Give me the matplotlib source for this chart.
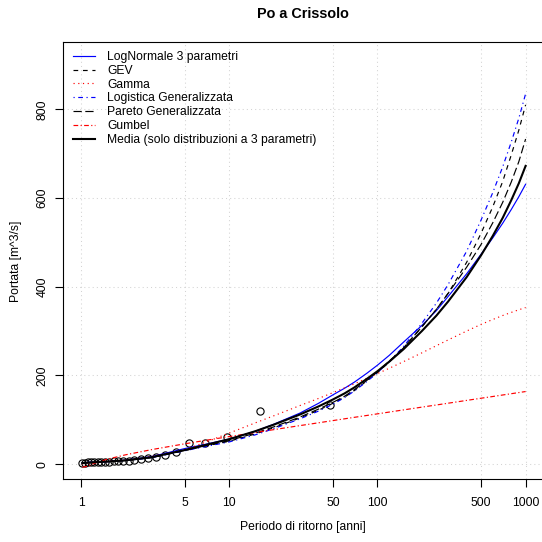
import numpy as np
import matplotlib
matplotlib.use("Agg")
import matplotlib.pyplot as plt

plt.rcParams['font.family'] = ['Liberation Sans', 'DejaVu Sans']

# Dati osservati (posizioni di plotting)
T_oss = [48, 16, 9.6, 6.86, 5.33, 4.36, 3.69, 3.2, 2.82, 2.53, 2.29, 2.09,
         1.92, 1.78, 1.66, 1.55, 1.45, 1.37, 1.30, 1.23, 1.17, 1.12, 1.07, 1.02]
Q_oss = [133, 120, 62, 46.5, 46.5, 27, 20.5, 16, 13, 11, 9.2, 7.7,
         7, 6.5, 6, 5.6, 5.3, 5, 4.7, 4.4, 4.1, 3.8, 3.5, 3.2]

# Tempi di ritorno delle curve
T = [1.02, 1.1, 1.25, 1.5, 2, 3, 5, 7, 10, 15, 20, 30, 40, 50, 60, 70, 85, 100,
     120, 150, 200, 250, 300, 400, 500, 600, 700, 800, 900, 1000]

lognormale = [2.5, 3.5, 4.3, 5.5, 9, 17, 35, 45, 56.5, 74, 90, 115, 137, 156, 171, 185, 205, 223,
              245, 275, 313, 346, 378, 429, 473, 510, 543, 574, 603, 631]
gev = [2.5, 3.5, 4.5, 5.5, 8, 14.5, 30.5, 41, 51.5, 68, 82, 104, 121.5, 137, 151, 166, 188, 206,
       230, 262, 310, 349, 385, 455, 520, 580, 637, 697, 753, 810]
gamma = [0.5, 2, 4, 6, 9, 17, 32, 50, 70, 93, 109, 132, 148, 161, 172, 181, 193.5, 204,
         216, 231, 251, 267, 280, 300, 315, 326, 335, 342, 348, 353]
logistica = [3, 3.8, 4.6, 5.6, 8, 14.5, 30, 40, 50, 66, 80, 102, 119.5, 135, 150, 165, 186.5, 206,
             231, 265, 318, 363, 405, 480, 550, 612, 670, 726, 780, 835]
pareto = [2.7, 3.5, 4.5, 5.5, 8.5, 15, 31, 42, 53, 70, 84, 106, 124, 139, 153, 168, 189, 208,
          232, 262, 310, 349, 385, 444, 495, 544, 590, 636, 682, 733]
gumbel = [-7, -5, 2.6, 11, 21, 32.7, 45.7, 53.8, 62.1, 71.3, 77.7, 86.8, 93.1, 98.1, 102.1, 105.5, 109.7, 113.3,
          117.3, 122.2, 128.5, 133.3, 137.3, 143.6, 148.5, 152.4, 155.8, 158.7, 161.3, 163.6]

# Media delle distribuzioni a 3 parametri
media = np.mean([lognormale, gev, gamma, logistica, pareto], axis=0)

x_tick = [1, 5, 10, 50, 100, 500, 1000]
y_tick = [0, 200, 400, 600, 800]

fig = plt.figure(figsize=(5.42, 5.42), dpi=100)
ax = fig.add_axes([63.3 / 542, 63 / 542, 480.1 / 542, 437 / 542])
ax.set_xscale('log')
ax.set_xlim(10 ** -0.12, 10 ** 3.12)
ax.set_ylim(-33.6, 951.7)

# griglia
for xv in x_tick:
    ax.axvline(xv, color='#d3d3d3', lw=0.75, ls=(0, (1, 3)), zorder=0)
for yv in y_tick:
    ax.axhline(yv, color='#d3d3d3', lw=0.75, ls=(0, (1, 3)), zorder=0)

ax.plot(T_oss, Q_oss, 'o', mfc='none', mec='black', ms=5.2, mew=0.8, zorder=2)

lw = 0.85
ax.plot(T, lognormale, color='blue', lw=lw, ls='-', label='LogNormale 3 parametri')
ax.plot(T, gev, color='black', lw=lw, ls=(0, (4, 4)), label='GEV')
ax.plot(T, gamma, color='red', lw=lw, ls=(0, (1, 3)), label='Gamma')
ax.plot(T, logistica, color='blue', lw=lw, ls=(0, (1, 3, 4, 3)), label='Logistica Generalizzata')
ax.plot(T, pareto, color='black', lw=lw, ls=(0, (7, 3)), label='Pareto Generalizzata')
ax.plot(T, gumbel, color='red', lw=lw, ls=(0, (4, 2, 1, 2)), label='Gumbel')
ax.plot(T, media, color='black', lw=1.5, ls='-', label='Media (solo distribuzioni a 3 parametri)')

ax.set_xticks(x_tick)
ax.set_xticklabels([str(v) for v in x_tick])
ax.minorticks_off()
ax.set_yticks(y_tick)
ax.set_yticklabels([str(v) for v in y_tick], rotation=90, va='center')
ax.tick_params(axis='both', length=6, width=0.8, labelsize=8.7, direction='out')
ax.tick_params(axis='x', pad=7)
ax.tick_params(axis='y', pad=4.5)
for s in ax.spines.values():
    s.set_linewidth(0.8)

leg = ax.legend(loc='upper left', bbox_to_anchor=(73 / 542, 1 - 51 / 542),
                bbox_transform=fig.transFigure, frameon=False, fontsize=8.7,
                handlelength=1.85, handletextpad=1.0, labelspacing=0.15,
                borderpad=0, borderaxespad=0)

fig.text(303 / 542, 1 - 14 / 542, 'Po a Crissolo', ha='center', va='center',
         fontsize=10.4, fontweight='bold')
fig.text(303 / 542, 1 - 527 / 542, 'Periodo di ritorno [anni]', ha='center', va='center', fontsize=8.7)
fig.text(16 / 542, 1 - 261 / 542, 'Portata [m^3/s]', ha='center', va='center', rotation=90, fontsize=8.7)

fig.savefig('out.png', dpi=100)
